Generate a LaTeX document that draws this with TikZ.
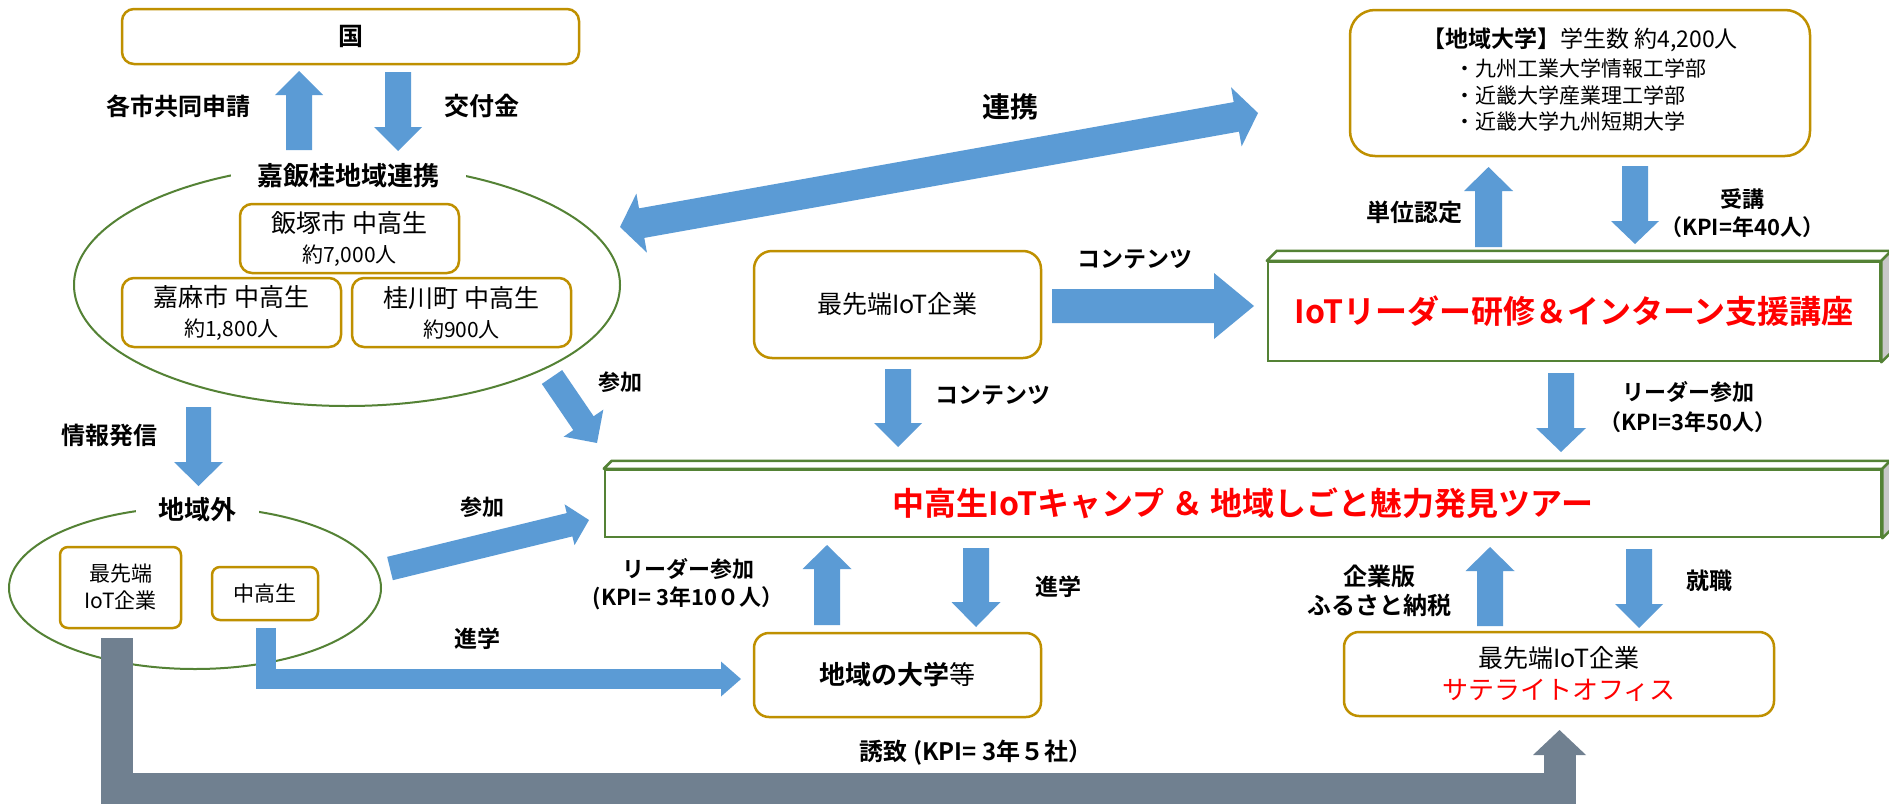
\documentclass[tikz,border=0pt]{standalone}
\usepackage{fontspec}
\setmainfont{Noto Sans CJK JP}[BoldFont={Noto Sans CJK JP Bold}]
\usetikzlibrary{calc,shapes.geometric}
\definecolor{arrblue}{HTML}{5B9BD5}
\definecolor{boxgold}{HTML}{BF9000}
\definecolor{ellgreen}{HTML}{548235}
\definecolor{slategr}{HTML}{708090}
\definecolor{sidegray}{HTML}{C8C8C8}
\definecolor{titlered}{HTML}{FF0000}
% #1 start, #2 tip, #3 shaft half width, #4 head half width, #5 head length
\newcommand{\blockarrow}[5]{%
  \coordinate (bah) at ($(#2)!#5pt!(#1)$);
  \fill[arrblue] ($(#1)!#3pt!90:(#2)$) -- ($(bah)!#3pt!90:(#2)$) -- ($(bah)!#4pt!90:(#2)$) -- (#2)
    -- ($(bah)!#4pt!-90:(#2)$) -- ($(bah)!#3pt!-90:(#2)$) -- ($(#1)!#3pt!-90:(#2)$) -- cycle;}
\newcommand{\dblockarrow}[5]{%
  \coordinate (bha) at ($(#1)!#5pt!(#2)$);
  \coordinate (bhb) at ($(#2)!#5pt!(#1)$);
  \fill[arrblue] (#1) -- ($(bha)!#4pt!90:(#2)$) -- ($(bha)!#3pt!90:(#2)$) -- ($(bhb)!#3pt!90:(#2)$)
    -- ($(bhb)!#4pt!90:(#2)$) -- (#2) -- ($(bhb)!#4pt!-90:(#2)$) -- ($(bhb)!#3pt!-90:(#2)$)
    -- ($(bha)!#3pt!-90:(#2)$) -- ($(bha)!#4pt!-90:(#2)$) -- cycle;}
\begin{document}
\begin{tikzpicture}[x=1pt,y=-1pt,
  box/.style={draw=boxgold, line width=2.5pt, fill=white, rounded corners=#1, inner sep=0pt, align=center},
  box/.default=10pt,
  cube/.style={draw=ellgreen, line width=2.5pt, fill=white, inner sep=0pt, align=center,
    text=titlered, font=\bfseries\fontsize{32}{36}\selectfont},
  face/.style={draw=ellgreen, line width=2.5pt, line join=round},
  lbl/.style={font=\bfseries\fontsize{23}{28}\selectfont, align=center, inner sep=0pt},
  ring/.style={ellipse, draw=ellgreen, line width=2pt, inner sep=0pt},
]
\useasboundingbox[fill=white] (0,0) rectangle (1889,803);

% ---------- top left ----------
\node[box=12pt, minimum width=457pt, minimum height=55pt, font=\bfseries\fontsize{25}{30}\selectfont] (kuni) at (350.5,36.5) {国};

\node[ring, minimum width=546pt, minimum height=242pt] (ell1) at (347,285) {};
\node[lbl, fill=white, minimum width=235pt, minimum height=30pt, font=\bfseries\fontsize{26}{30}\selectfont] (kahanke) at (348,176) {嘉飯桂地域連携};

\node[box=12pt, minimum width=219pt, minimum height=69pt, font=\fontsize{25}{30}\selectfont] (iizuka) at (349.5,238.5) {飯塚市 中高生\\{\fontsize{21}{24}\selectfont 約7,000人}};
\node[box=12pt, minimum width=219pt, minimum height=69pt, font=\fontsize{25}{30}\selectfont] (kama) at (231.5,312.5) {嘉麻市 中高生\\{\fontsize{21}{24}\selectfont 約1,800人}};
\node[box=12pt, minimum width=219pt, minimum height=69pt, font=\fontsize{25}{30}\selectfont] (keisen) at (461.5,312.5) {桂川町 中高生\\{\fontsize{21}{24}\selectfont 約900人}};

\node[lbl, font=\bfseries\fontsize{24}{28}\selectfont] (shinsei) at (178,106) {各市共同申請};
\node[lbl, font=\bfseries\fontsize{25}{28}\selectfont] (kofu) at (482,106) {交付金};

% ---------- left lower ----------
\node[ring, minimum width=372pt, minimum height=162pt] (ell2) at (195,588) {};
\node[lbl, fill=white, minimum width=123pt, minimum height=30pt, font=\bfseries\fontsize{26}{30}\selectfont] (chiikigai) at (197,510) {地域外};
\node[box=8pt, minimum width=121pt, minimum height=81pt, font=\fontsize{21}{27}\selectfont] (sentan2) at (120.5,587.5) {最先端\\IoT企業};
\node[box=8pt, minimum width=106pt, minimum height=53pt, font=\fontsize{21}{25}\selectfont] (chukou2) at (265,593.5) {中高生};
\node[lbl, font=\bfseries\fontsize{24}{28}\selectfont] (joho) at (109,435) {情報発信};

% ---------- middle ----------
\node[box=18pt, minimum width=287pt, minimum height=107pt, font=\fontsize{25}{28}\selectfont] (sentan1) at (897.5,304.5) {最先端IoT企業};
\node[box=15pt, minimum width=287pt, minimum height=84pt, font=\fontsize{26}{30}\selectfont] (univ) at (897.5,675) {{\bfseries 地域の大学}等};

\node[lbl, font=\bfseries\fontsize{28}{32}\selectfont] (renkei) at (1010,107) {連携};
\node[lbl] (cont1) at (1135,259) {コンテンツ};
\node[lbl] (cont2) at (993,395) {コンテンツ};
\node[lbl, font=\bfseries\fontsize{22}{28}\selectfont] (sanka1) at (620,382) {参加};
\node[lbl, font=\bfseries\fontsize{22}{28}\selectfont] (sanka2) at (482,507) {参加};
\node[lbl] (shingaku1) at (477,639) {進学};
\node[lbl] (shingaku2) at (1058,587) {進学};
\node[lbl, font=\bfseries\fontsize{22}{28}\selectfont] (leaderL) at (688,584) {リーダー参加\\(KPI= 3年10０人）};
\node[lbl, font=\bfseries\fontsize{24}{28}\selectfont] (yuchi) at (976,753) {誘致 (KPI= 3年５社）};

% ---------- right ----------
\node[box=25pt, minimum width=460pt, minimum height=146pt, font=\fontsize{21}{26.5}\selectfont] (daigaku) at (1580,83)
  {{\fontsize{23}{27}\selectfont\textbf{【地域大学】}学生数 約4,200人}\\[5pt]
   {\fontsize{21}{26.5}\selectfont\begin{tabular}{@{}l@{}}・九州工業大学情報工学部\\・近畿大学産業理工学部\\・近畿大学九州短期大学\end{tabular}}};

\node[cube, minimum width=612pt, minimum height=99pt] (iot) at (1574,311.5) {IoTリーダー研修＆インターン支援講座};
\draw[face, fill=white] (iot.north west) -- ++(10,-10) -- ($(iot.north east)+(10,-10)$) -- (iot.north east) -- cycle;
\draw[face, fill=sidegray] (iot.north east) -- ++(10,-10) -- ($(iot.south east)+(10,-10)$) -- (iot.south east) -- cycle;

\node[cube, minimum width=1276pt, minimum height=67pt] (camp) at (1243,503.5) {中高生IoTキャンプ ＆ 地域しごと魅力発見ツアー};
\draw[face, fill=white] (camp.north west) -- ++(8,-8) -- ($(camp.north east)+(8,-8)$) -- (camp.north east) -- cycle;
\draw[face, fill=sidegray] (camp.north east) -- ++(8,-8) -- ($(camp.south east)+(8,-8)$) -- (camp.south east) -- cycle;

\node[box=15pt, minimum width=430pt, minimum height=84pt, font=\fontsize{25}{32}\selectfont] (sat) at (1559,674) {最先端IoT企業\\{\color{titlered}\fontsize{26}{32}\selectfont サテライトオフィス}};

\node[lbl, font=\bfseries\fontsize{24}{28}\selectfont] (tani) at (1414,212) {単位認定};
\node[lbl, font=\bfseries\fontsize{22}{28}\selectfont] (juko) at (1742,213) {受講\\（KPI=年40人）};
\node[lbl, font=\bfseries\fontsize{22}{30}\selectfont] (leaderR) at (1688,407) {リーダー参加\\（KPI=3年50人）};
\node[lbl, font=\bfseries\fontsize{24}{29}\selectfont] (furusato) at (1379,591) {企業版\\ふるさと納税};
\node[lbl] (shushoku) at (1709,581) {就職};

% ---------- arrows ----------
\coordinate (a1s) at (299,150);   \coordinate (a1t) at (299,71);
\coordinate (a2s) at (398,72);    \coordinate (a2t) at (398,151);
\coordinate (a3s) at (198.5,407); \coordinate (a3t) at (198.5,486);
\coordinate (a4s) at (552,377);   \coordinate (a4t) at (597,443);
\coordinate (a5s) at (390,568.5); \coordinate (a5t) at (589,520);
\coordinate (a6s) at (1052,306);  \coordinate (a6t) at (1254,306);
\coordinate (a7s) at (898,369);   \coordinate (a7t) at (898,447);
\coordinate (a8s) at (620,227);   \coordinate (a8t) at (1258,113);
\coordinate (a9s) at (1488.5,247);\coordinate (a9t) at (1488.5,167);
\coordinate (a10s) at (1635,166); \coordinate (a10t) at (1635,244);
\coordinate (a11s) at (1561,373); \coordinate (a11t) at (1561,452);
\coordinate (a12s) at (827,625);  \coordinate (a12t) at (827,545);
\coordinate (a13s) at (976,548);  \coordinate (a13t) at (976,627);
\coordinate (a14s) at (1490,626); \coordinate (a14t) at (1490,547);
\coordinate (a15s) at (1639,549); \coordinate (a15t) at (1639,628);

\blockarrow{a1s}{a1t}{13}{24}{24}
\blockarrow{a2s}{a2t}{13}{24}{24}
\blockarrow{a3s}{a3t}{12.5}{24.5}{24}
\blockarrow{a4s}{a4t}{12.3}{24}{24}
\blockarrow{a5s}{a5t}{12}{21}{20}
\blockarrow{a6s}{a6t}{17}{33}{40}
\blockarrow{a7s}{a7t}{13}{24}{24}
\dblockarrow{a8s}{a8t}{15}{30}{22}
\blockarrow{a9s}{a9t}{13.5}{24.5}{24}
\blockarrow{a10s}{a10t}{13}{24}{23}
\blockarrow{a11s}{a11t}{13}{25}{24}
\blockarrow{a12s}{a12t}{13}{24.5}{24}
\blockarrow{a13s}{a13t}{13}{24.5}{25}
\blockarrow{a14s}{a14t}{13}{24.5}{24}
\blockarrow{a15s}{a15t}{13}{24}{24}

% elbow: 中高生 -> 地域の大学等
\coordinate (ss) at (266,628); \coordinate (st) at (741,679);
\draw[arrblue, line width=20pt] (ss) |- ($(st)+(-20,0)$);
\fill[arrblue] ($(st)+(-20,-17.5)$) -- (st) -- ($(st)+(-20,17.5)$) -- cycle;

% elbow: 最先端IoT企業 -> サテライトオフィス
\coordinate (gs) at (117,638); \coordinate (gt) at (1559.5,730);
\draw[slategr, line width=32pt] (gs) |- ($(gt)+(0,59)$) -- ($(gt)+(0,24)$);
\fill[slategr] ($(gt)+(-26.5,25)$) -- (gt) -- ($(gt)+(26.5,25)$) -- cycle;
\end{tikzpicture}
\end{document}
